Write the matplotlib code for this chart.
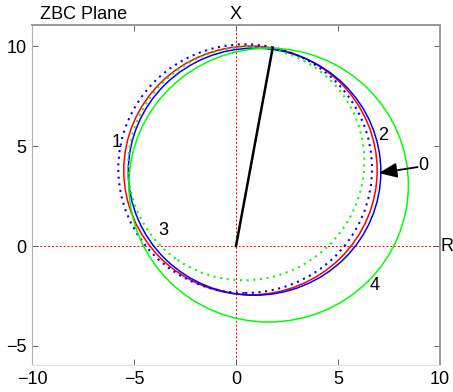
import numpy as np
import matplotlib
matplotlib.use("Agg")
import matplotlib.pyplot as plt
from matplotlib.patches import Ellipse

plt.rcParams["font.family"] = ["Liberation Sans", "DejaVu Sans"]

# ---- loci in the ZBC plane: centre x, centre y, width, height, tilt ----
names  = ["red", "blue", "blue_dot", "green_dot", "green"]
cx     = [0.71, 0.91, 0.45, 0.50, 1.60]
cy     = [3.78, 3.72, 3.87, 4.12, 3.05]
width  = [12.42, 12.38, 12.44, 11.50, 13.70]
height = [12.44, 12.36, 12.44, 11.75, 13.70]
tilt   = [0, 0, 0, -35, 0]
colors = ["#ff0000", "#0000ff", "#0000ff", "#00ff00", "#00ff00"]
styles = ["-", "-", (0, (1, 2.2)), (0, (1, 2.2)), "-"]
widths = [1.1, 1.1, 1.5, 1.5, 1.1]

# radius vector from origin to top of the outer locus
vec_x = [0.0, 1.80]
vec_y = [0.0, 9.92]

# curve labels (text, x, y)
lab_txt = ["1", "2", "0", "3", "4"]
lab_x   = [-5.83, 7.20, 9.20, -3.58, 6.80]
lab_y   = [5.20, 5.55, 4.05, 0.80, -1.95]

fs = 13

fig = plt.figure(figsize=(4.53, 3.92), dpi=100)
ax = fig.add_axes([0.0706, 0.0689, 0.9007, 0.867])

ax.axhline(0, color="#ff0000", lw=0.7, ls=(0, (2, 2)), zorder=1)
ax.axvline(0, color="#ff0000", lw=0.7, ls=(0, (2, 2)), zorder=1)

for i in range(len(names)):
    ax.add_patch(Ellipse((cx[i], cy[i]), width[i], height[i], angle=tilt[i],
                         fill=False, edgecolor=colors[i], ls=styles[i],
                         lw=widths[i], zorder=3))

ax.plot(vec_x, vec_y, color="k", lw=1.8, zorder=4)

for t, x, y in zip(lab_txt, lab_x, lab_y):
    ax.text(x, y, t, fontsize=fs, ha="center", va="center", zorder=5)

ax.annotate("", xy=(7.0, 3.65), xytext=(8.9, 3.95),
            arrowprops=dict(arrowstyle="-|>,head_length=1.1,head_width=0.45",
                            color="k", lw=1.3, shrinkA=0, shrinkB=0), zorder=5)

ax.text(-7.45, 11.6, "ZBC Plane", fontsize=fs, ha="center", va="center", clip_on=False)
ax.text(0, 11.6, "X", fontsize=fs, ha="center", va="center", clip_on=False)
ax.text(10.04, 0, "R", fontsize=fs, ha="left", va="center", clip_on=False)

ax.set_xlim(-10, 10)
ax.set_ylim(-5.95, 11.05)
ax.set_xticks([-10, -5, 0, 5, 10])
ax.set_yticks([-5, 0, 5, 10])
ax.tick_params(direction="in", top=True, right=True, length=4, width=0.6,
               color="#505050", labelsize=fs, pad=4)

for side in ["top", "right"]:
    ax.spines[side].set_color("#999999")
    ax.spines[side].set_linewidth(1.4)
ax.spines["left"].set_color("#b0b0b0")
ax.spines["left"].set_linewidth(0.8)
ax.spines["bottom"].set_color("#e0e0e0")
ax.spines["bottom"].set_linewidth(0.8)

fig.savefig("out.png", dpi=100)
